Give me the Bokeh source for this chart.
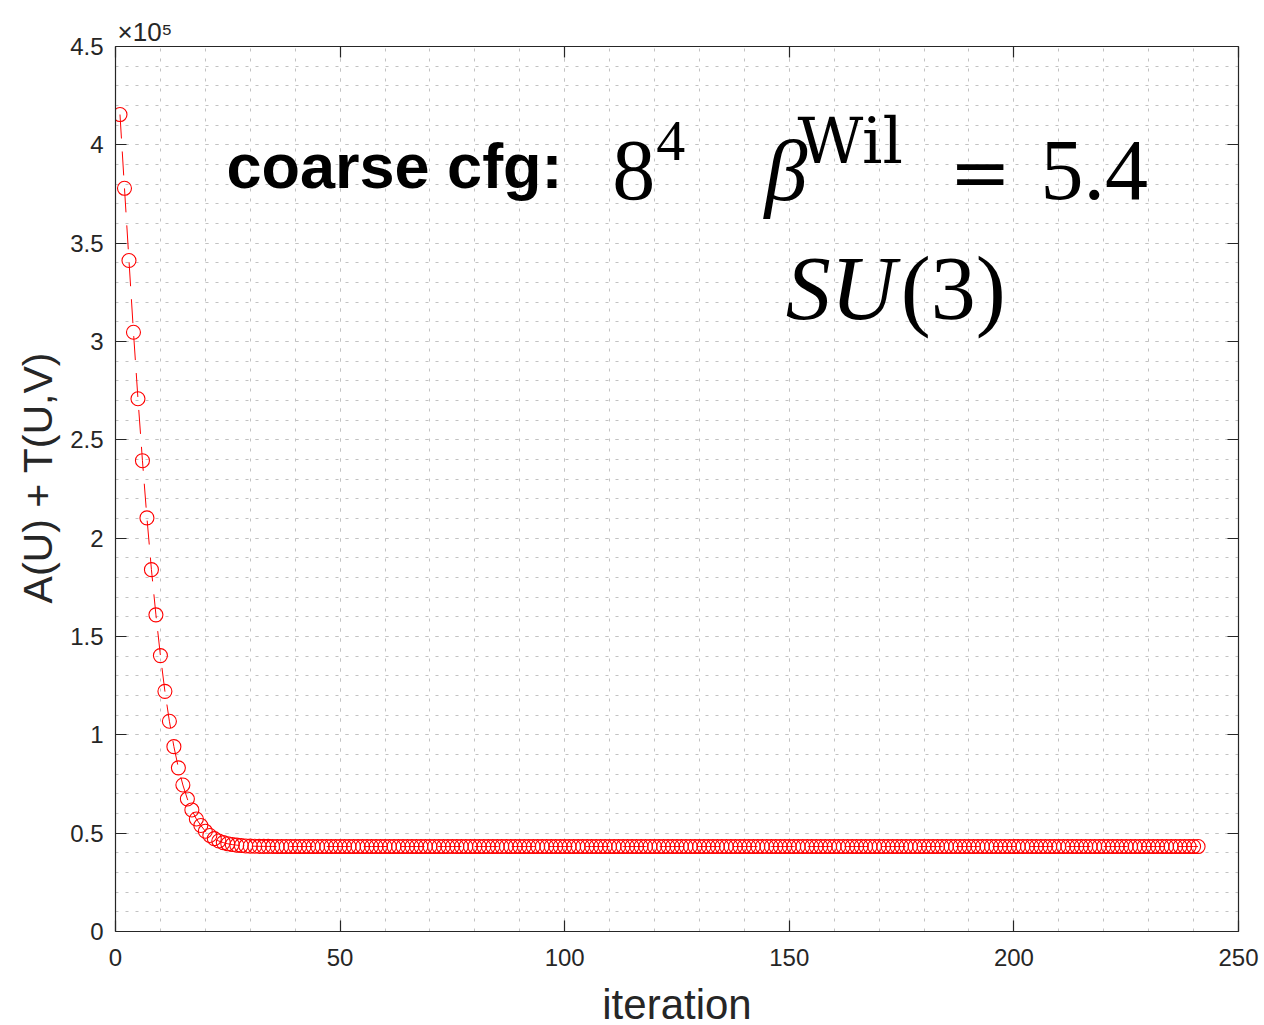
from bokeh.plotting import figure
from bokeh.models import Label, LinearAxis, FixedTicker, Range1d, Title
from bokeh.embed import file_html
from bokeh.resources import INLINE

# ---- data ----
early_values = [415400, 377900, 341200, 304700, 270900, 239400, 210300, 184000,
                161000, 140300, 122100, 106900, 94000, 83200, 74500, 67400,
                61800, 57200, 53900, 51000, 48800, 47200, 46000, 45200, 44600,
                44200, 43900, 43700, 43500, 43400, 43350, 43300, 43280, 43260,
                43250]
plateau_value = 43200
n_iter = 241
values = early_values + [plateau_value] * (n_iter - len(early_values))
iterations = list(range(1, n_iter + 1))

x_ticks = [0, 50, 100, 150, 200, 250]
y_ticks = [0, 50000, 100000, 150000, 200000, 250000, 300000, 350000, 400000, 450000]
y_tick_labels = ["0", "0.5", "1", "1.5", "2", "2.5", "3", "3.5", "4", "4.5"]
x_minor = list(range(0, 251, 10))
y_minor = list(range(0, 450001, 10000))

AX = "#262626"
FONT = "Liberation Sans"
SERIF = "Liberation Serif"

p = figure(frame_width=1123, frame_height=885, output_backend="svg",
           toolbar_location=None, x_range=Range1d(0, 250), y_range=Range1d(0, 450000),
           min_border_left=115, min_border_right=26, min_border_top=46, min_border_bottom=94,
           background_fill_color="white", border_fill_color="white")
p.outline_line_color = None

# grids
for g, minor in ((p.xgrid[0], x_minor), (p.ygrid[0], y_minor)):
    g.grid_line_color = "#c2c2c2"
    g.grid_line_dash = "3 7"
    g.grid_line_width = 1
    g.minor_grid_line_color = "#c2c2c2"
    g.minor_grid_line_dash = "3 7"
    g.minor_grid_line_width = 1

p.xaxis.ticker = FixedTicker(ticks=x_ticks, minor_ticks=x_minor)
p.yaxis.ticker = FixedTicker(ticks=y_ticks, minor_ticks=y_minor)
p.yaxis.major_label_overrides = {t: l for t, l in zip(y_ticks, y_tick_labels)}

def style_axis(ax, show_labels=True):
    ax.axis_line_color = AX
    ax.axis_line_width = 1.2
    ax.major_tick_line_color = AX
    ax.major_tick_line_width = 1.2
    ax.major_tick_in = 11
    ax.major_tick_out = 0
    ax.minor_tick_in = 0
    ax.minor_tick_out = 0
    ax.major_label_text_font = FONT
    ax.major_label_text_font_size = "24px" if show_labels else "0px"
    ax.major_label_text_color = AX
    ax.axis_label_text_font = FONT
    ax.axis_label_text_color = AX
    ax.axis_label_text_font_style = "normal"

style_axis(p.xaxis[0])
style_axis(p.yaxis[0])
p.xaxis.major_label_standoff = 17
p.yaxis.major_label_standoff = 12
p.xaxis.axis_label = "iteration"
p.xaxis.axis_label_text_font_size = "42px"
p.xaxis.axis_label_standoff = 12
p.yaxis.axis_label = "\u00a0\u00a0A(U) + T(U,V)"
p.yaxis.axis_label_text_font_size = "41px"
p.yaxis.axis_label_standoff = 6

top_ax = LinearAxis(ticker=FixedTicker(ticks=x_ticks, minor_ticks=[]))
right_ax = LinearAxis(ticker=FixedTicker(ticks=y_ticks, minor_ticks=[]))
style_axis(top_ax, False)
style_axis(right_ax, False)
top_ax.major_label_standoff = 0
right_ax.major_label_standoff = 0
p.add_layout(top_ax, "above")
p.add_layout(right_ax, "right")

# exponent label above the y axis
p.add_layout(Title(text="\u00d710\u2075", align="left", offset=2, standoff=0,
                   text_font=FONT, text_font_size="26px", text_font_style="normal",
                   text_color=AX), "above")

# data
p.line(iterations, values, line_color="#ff0000", line_width=1, line_dash="24 13")
p.scatter(iterations, values, marker="circle", size=14, fill_color=None,
          line_color="#ff0000", line_width=1.1)

def lab(x, y, text, font, size, style="normal"):
    p.add_layout(Label(x=x, y=y, text=text, text_font=font, text_font_size=size,
                       text_font_style=style, text_color="black",
                       text_align="left", text_baseline="alphabetic"))

lab(24.7, 389400, "coarse cfg:", FONT, "63px", "bold")
lab(110.6, 386850, "8", SERIF, "86px")
lab(120.4, 402180, "4", SERIF, "58px")
lab(144.5, 386850, "\u03b2", SERIF, "86px", "italic")
lab(151.8, 402170, "Wil", "DejaVu Serif", "64px")
lab(185.6, 386000, "=", "DejaVu Serif", "74px")
lab(205.9, 386850, "5.4", SERIF, "86px")
lab(149.2, 326870, "SU", SERIF, "90px", "italic")
lab(174.8, 326870, "(3)", SERIF, "90px")

open("out.html", "w").write(file_html(p, INLINE))
